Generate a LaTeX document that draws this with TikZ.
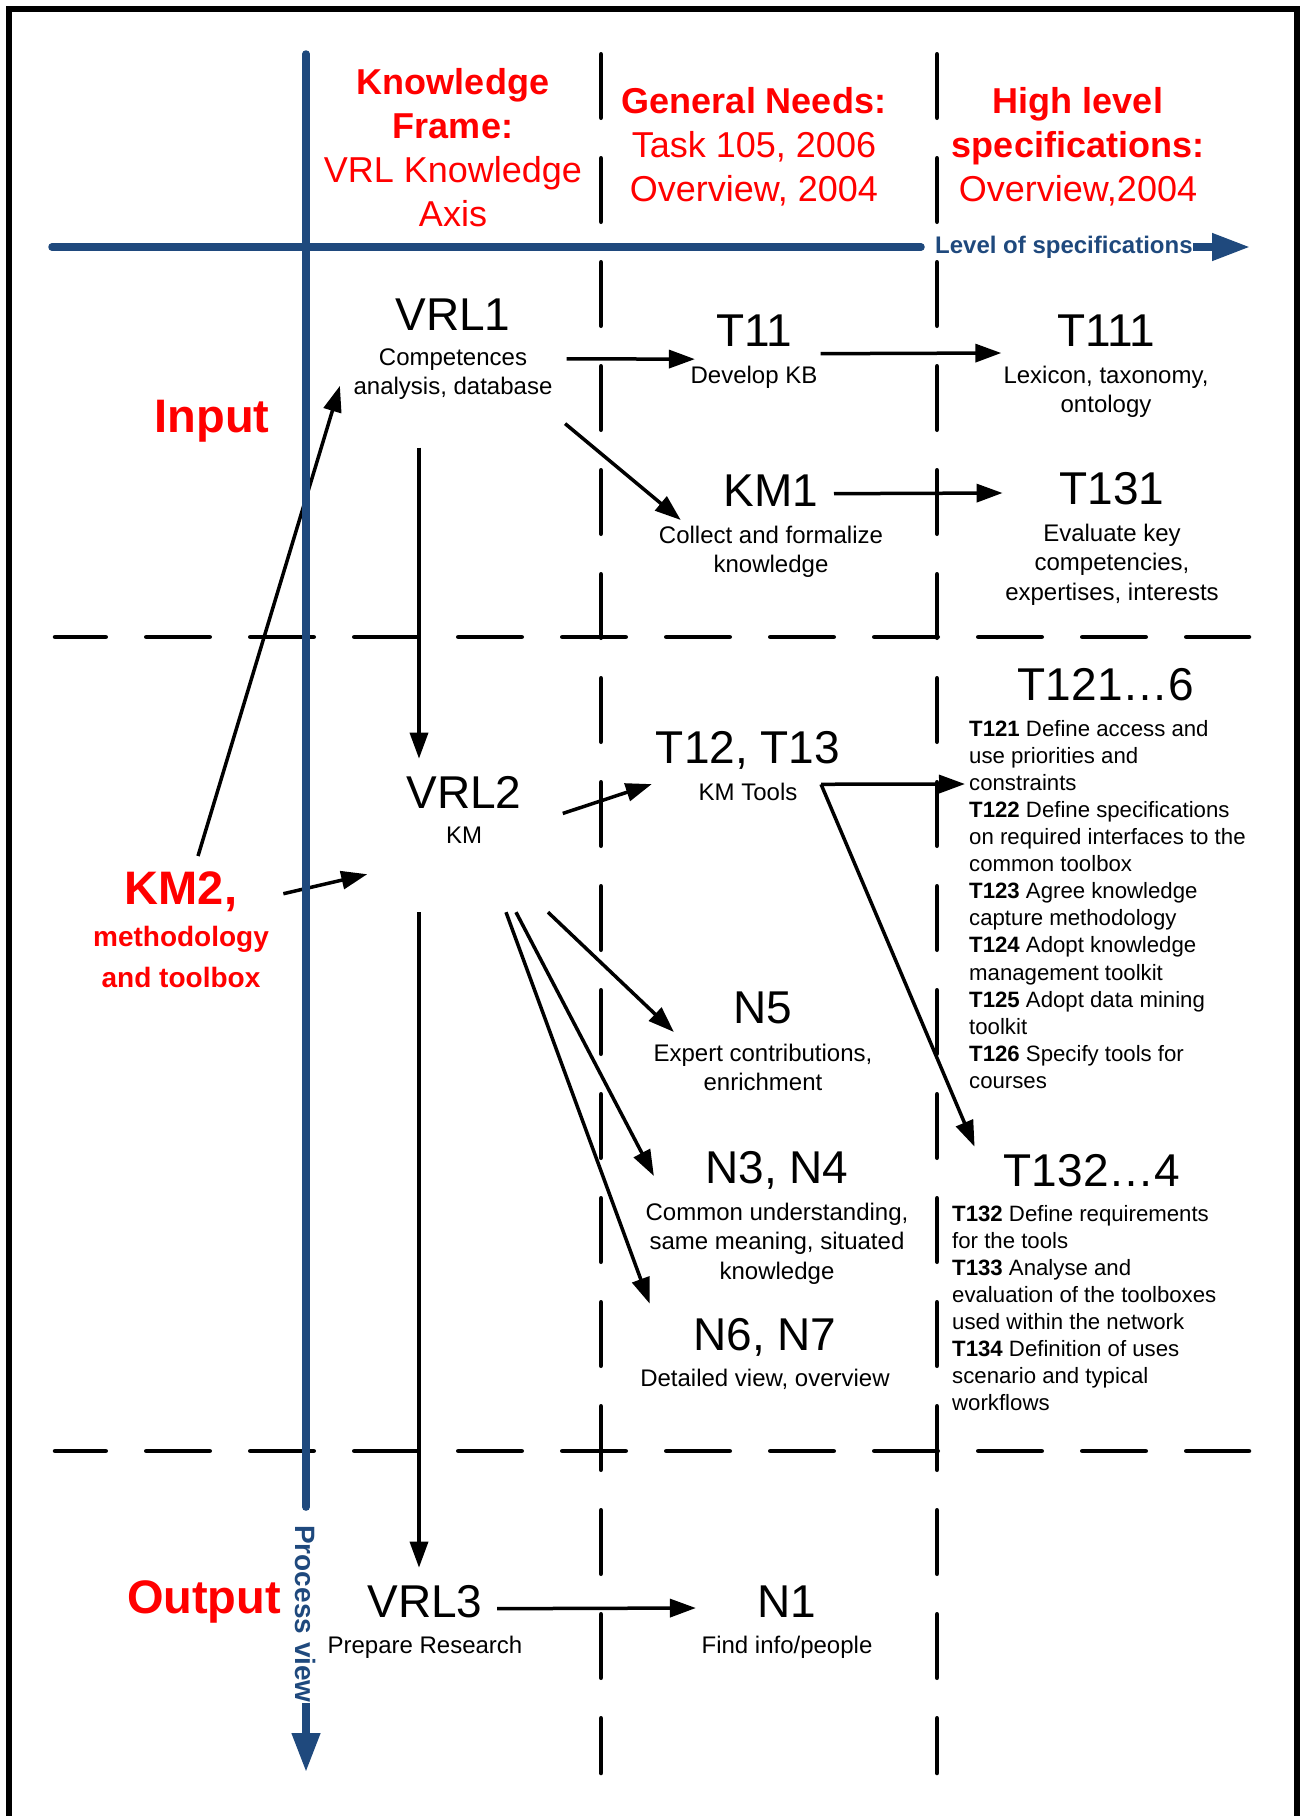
\documentclass[tikz,border=0pt]{standalone}
\usepackage{fontspec}
\setmainfont{Liberation Sans}
\usepackage{tikz}
\usetikzlibrary{arrows.meta,positioning}
\definecolor{axisblue}{RGB}{31,73,125}

\begin{document}
\begin{tikzpicture}[
    x=1pt, y=-1pt,
    lvl/.style={font=\fontsize{46}{52}\selectfont, inner sep=0pt, anchor=base},
    desc/.style={font=\fontsize{24}{29.5}\selectfont, align=center, inner sep=0pt, anchor=north},
    tasks/.style={font=\fontsize{22.2}{27.08}\selectfont, align=left, inner sep=0pt, anchor=north west},
    head/.style={text=red, font=\fontsize{36}{44}\selectfont, align=center, inner sep=0pt, anchor=north},
    side/.style={text=red, font=\fontsize{47}{52}\selectfont\bfseries, inner sep=0pt, anchor=base},
    sidesub/.style={text=red, font=\fontsize{28}{41}\selectfont\bfseries, align=center, inner sep=0pt, anchor=north},
    axislbl/.style={text=axisblue, font=\fontsize{24}{28}\selectfont\bfseries, inner sep=0pt},
    axisline/.style={draw=axisblue, line width=7.5pt},
    gridline/.style={line width=4.5pt, line cap=round, dash pattern=on 63.5pt off 40.5pt},
    arr/.style={-{Triangle[length=26pt,width=18pt]}, line width=3.5pt}
]
\useasboundingbox (0,0) rectangle (1304,1816);

% frame and grid
\draw[line width=6pt] (9,1816) -- (9,9) -- (1297,9) -- (1297,1816);
\draw[gridline] (601,54.25) -- (601,1773);
\draw[gridline] (937,54.25) -- (937,1773);
\draw[gridline, dash phase=12.75pt] (55,637) -- (1249,637);
\draw[gridline, dash phase=12.75pt] (55,1451) -- (1249,1451);

% column heads
\node[head] (KFrame) at (453,68) {\textbf{Knowledge}\\\textbf{Frame:}\\VRL Knowledge\\Axis};
\node[head] (GNeeds) at (754,87) {\textbf{General Needs:}\\Task 105, 2006\\Overview, 2004};
\node[head] (HLevel) at (1078,87) {\textbf{High level}\\\textbf{specifications:}\\Overview,2004};

% row heads
\node[side] (Input) at (212,432) {Input};
\node[side] (KM2) at (181,904) {KM2,};
\node[sidesub] (KM2_d) at (181,925.6) {methodology\\and toolbox};
\node[side] (Output) at (204,1613) {Output};

% input row
\node[lvl] (VRL1) at (453,330) {VRL1};
\node[desc] (VRL1_d) at (453,348.5) {Competences\\analysis, database};
\node[lvl] (T11) at (754,346.5) {T11};
\node[desc] (T11_d) at (754,365.5) {Develop KB};
\node[lvl] (T111) at (1106,346.5) {T111};
\node[desc] (T111_d) at (1106,365.5) {Lexicon, taxonomy,\\ontology};
\node[lvl] (KM1) at (771,506.5) {KM1};
\node[desc] (KM1_d) at (771,525.5) {Collect and formalize\\knowledge};
\node[lvl] (T131) at (1112,504.5) {T131};
\node[desc] (T131_d) at (1112,523.5) {Evaluate key\\competencies,\\expertises, interests};

% middle row
\node[lvl] (VRL2) at (464,808.5) {VRL2};
\node[desc] (VRL2_d) at (464,826.5) {KM};
\node[lvl] (T12) at (748,763.5) {T12, T13};
\node[desc] (T12_d) at (748,782.5) {KM Tools};
\node[lvl] (T121) at (1106,700.5) {T121…6};
\node[tasks] (T121_l) at (969,720) {\textbf{T121} Define access and\\use priorities and\\constraints\\\textbf{T122} Define specifications\\on required interfaces to the\\common toolbox\\\textbf{T123} Agree knowledge\\capture methodology\\\textbf{T124} Adopt knowledge\\management toolkit\\\textbf{T125} Adopt data mining\\toolkit\\\textbf{T126} Specify tools for\\courses};
\node[lvl] (N5) at (763,1023.5) {N5};
\node[desc] (N5_d) at (763,1043.5) {Expert contributions,\\enrichment};
\node[lvl] (N34) at (777,1183.5) {N3, N4};
\node[desc] (N34_d) at (777,1202.5) {Common understanding,\\same meaning, situated\\knowledge};
\node[lvl] (N67) at (765,1350.5) {N6, N7};
\node[desc] (N67_d) at (765,1368.5) {Detailed view, overview};
\node[lvl] (T132) at (1092,1186.5) {T132…4};
\node[tasks] (T132_l) at (952,1205) {\textbf{T132} Define requirements\\for the tools\\\textbf{T133} Analyse and\\evaluation of the toolboxes\\used within the network\\\textbf{T134} Definition of uses\\scenario and typical\\workflows};

% output row
\node[lvl] (VRL3) at (425,1617.5) {VRL3};
\node[desc] (VRL3_d) at (425,1635.5) {Prepare Research};
\node[lvl] (N1) at (787,1617.5) {N1};
\node[desc] (N1_d) at (787,1635.5) {Find info/people};

\draw[arr] ([shift={(14,-15.5)}]VRL1_d.east) -- ([shift={(4.5,-17.75)}]T11_d.west);
\draw[arr] ([shift={(28.5,23)}]T11.east) -- ([shift={(-2,-12.5)}]T111_d.north west);
\draw[arr] ([shift={(12.5,23.5)}]VRL1_d.south east) -- ([shift={(22,-5.5)}]KM1_d.north west);
\draw[arr] ([shift={(15.5,3)}]KM1.east) -- ([shift={(-2.5,-30.5)}]T131_d.north west);
\draw[arr] ([shift={(-34,47.5)}]VRL1_d.south) -- ([shift={(-45,-17.5)}]VRL2.north);

\draw[arr] ([shift={(17,-15)}]KM2.north) -- ([shift={(-13.5,11.5)}]VRL1_d.west);
\draw[arr] ([shift={(46,2.5)}]KM2.east) -- ([shift={(-39,65.5)}]VRL2.south west);

\draw[arr] ([shift={(41,21)}]VRL2.east) -- ([shift={(-4,14.5)}]T12.south west);
\draw[arr] ([shift={(23.5,-7.25)}]T12_d.east) -- ([shift={(-4,64)}]T121_l.north west);
\draw[arr] ([shift={(23.5,-7.25)}]T12_d.east) -- ([shift={(-29,-7.5)}]T132.north west);

\draw[arr] ([shift={(84,103.5)}]VRL2.south) -- ([shift={(20.5,-11.5)}]N5_d.north west);
\draw[arr] ([shift={(52,103.5)}]VRL2.south) -- ([shift={(8.5,-26.5)}]N34_d.north west);
\draw[arr] ([shift={(42,103.5)}]VRL2.south) -- ([shift={(-43.5,-14.5)}]N67.north west);
\draw[arr] ([shift={(-45,103.5)}]VRL2.south) -- ([shift={(-6,-17.5)}]VRL3.north);
\draw[arr] ([shift={(14.5,7)}]VRL3.east) -- ([shift={(-5.5,-27.5)}]N1_d.north west);

% axes
\node[axislbl, anchor=west] (LevelSpec) at (935,247) {Level of specifications};
\node[axislbl, font=\fontsize{28}{32}\selectfont\bfseries, rotate=-90] (ProcView) at (306,1614) {Process view};
\coordinate (HStart) at (52,247);
\coordinate (HEnd) at (1250,247);
\coordinate (VStart) at (306,54);
\coordinate (VEnd) at (306,1772);
\draw[axisline, line cap=round] (HStart) -- ([xshift=-14pt]LevelSpec.west);
\draw[axisline, -{Triangle[length=38pt,width=26pt]}] (LevelSpec.east) -- (HEnd);
\draw[axisline, line cap=round] (VStart) -- ([yshift=18pt]ProcView.west);
\draw[axisline, -{Triangle[length=39pt,width=27pt]}] (ProcView.east) -- (VEnd);

\end{tikzpicture}
\end{document}
